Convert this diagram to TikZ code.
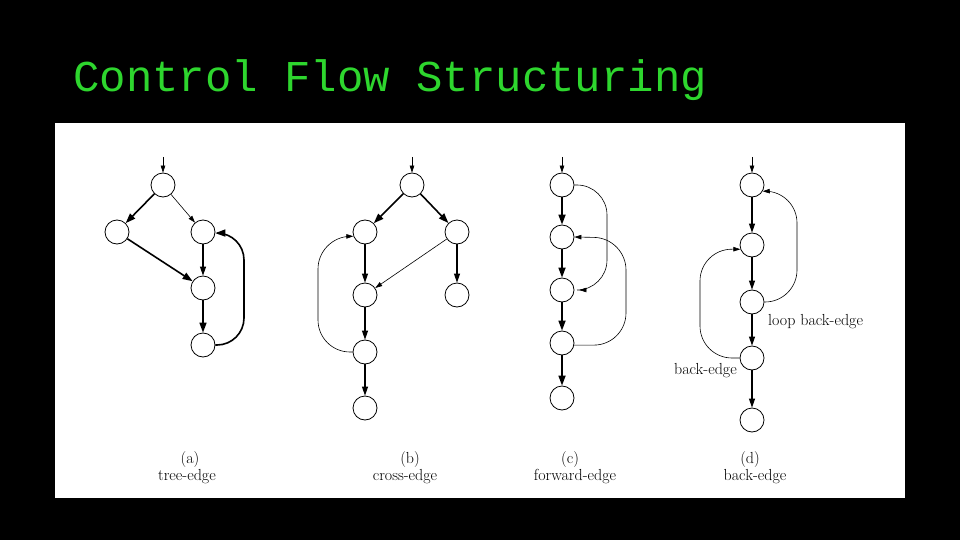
\documentclass[tikz,border=0pt]{standalone}
\usepackage{fontspec}
\usetikzlibrary{arrows.meta}
\newfontfamily\titlefont{Liberation Mono}
\definecolor{titlegreen}{RGB}{46,214,46}
\tikzset{
	blk/.style={circle, draw, line width=0.8pt, minimum size=24pt, inner sep=0pt},
	heavy/.style={line width=1.6pt, -{Triangle[length=10pt,width=7pt]}},
	medium/.style={line width=1.1pt, -{Triangle[length=9pt,width=6pt]}},
	light/.style={line width=0.6pt, -{Triangle[length=7pt,width=4.5pt]}},
	caption/.style={font=\fontsize{16}{18}\selectfont, inner sep=0pt},
}
\begin{document}
\begin{tikzpicture}[x=1pt, y=-1pt]
%frame
	\useasboundingbox (0,0) rectangle (960,540);
	\fill[black] (0,0) rectangle (960,540);
	\fill[white] (55,123) rectangle (905,498);
	\node[anchor=base west, inner sep=0pt, text=titlegreen, font=\titlefont\fontsize{44}{48}\selectfont] (title) at (73,92) {Control Flow Structuring};

%(a) tree-edge
	\coordinate (a0) at (163,157);
	\foreach \xy/\name in {{(163,185)/a1},{(117,232)/a2},{(203,232)/a3},{(203,288)/a4},{(203,345)/a5}} {
		\node[blk] (\name) at \xy {};
	}
		\draw[light] (a0) -- (a1);
		\draw[heavy] (a1) -- (a2);
		\draw[light] (a1) -- (a3);
		\draw[heavy] (a2) -- (a4);
		\draw[medium] (a3) -- (a4);
		\draw[heavy] (a4) -- (a5);
		\draw[heavy, rounded corners=27pt] (a5.east) -- (244,345) -- (244,233) -- (a3.-5);

%(b) cross-edge
	\coordinate (b0) at (412,157);
	\foreach \xy/\name in {{(412,185)/b1},{(365,232)/b2},{(457,232)/b3},{(365,295)/b4},{(457,295)/b5},{(365,352)/b6},{(365,408)/b7}} {
		\node[blk] (\name) at \xy {};
	}
		\draw[light] (b0) -- (b1);
		\draw[heavy] (b1) -- (b2);
		\draw[heavy] (b1) -- (b3);
		\draw[medium] (b2) -- (b4);
		\draw[light] (b3) -- (b4);
		\draw[medium] (b3) -- (b5);
		\draw[medium] (b4) -- (b6);
		\draw[medium] (b6) -- (b7);
		\draw[light, rounded corners=32pt] (b6.west) -- (318,352) -- (318,237) -- (b2.200);

%(c) forward-edge
	\coordinate (c0) at (562,157);
	\foreach \y/\name in {185/c1, 237/c2, 290/c3, 343/c4, 398/c5} {
		\node[blk] (\name) at (562,\y) {};
	}
		\draw[light] (c0) -- (c1);
	\foreach \i/\j in {c1/c2, c2/c3, c3/c4, c4/c5} {
		\draw[heavy] (\i) -- (\j);
	}
		\draw[light, shorten >=5pt, rounded corners=30pt] (c1.east) -- (607,185) -- (607,290) -- (c3.east);
		\draw[light, rounded corners=32pt] (c4.-10) -- (626,345) -- (626,238) -- (c2.east);

%(d) back-edge
	\coordinate (d0) at (752,157);
	\foreach \y/\name in {185/d1, 245/d2, 302/d3, 358/d4, 420/d5} {
		\node[blk] (\name) at (752,\y) {};
	}
		\draw[light] (d0) -- (d1);
	\foreach \i/\j in {d1/d2, d2/d3, d3/d4, d4/d5} {
		\draw[medium] (\i) -- (\j);
	}
		\draw[light, rounded corners=32pt] (d3.east) -- (797,302) -- (797,191) -- (d1.-30);
		\draw[light, rounded corners=32pt] (d4.west) -- (700,358) -- (700,249) -- (d2.200);
		\node[caption, anchor=west] (loopback) at (768,322) {loop back-edge};
		\node[caption, anchor=east] (back) at (737,371) {back-edge};

%captions
	\foreach \x/\tag/\xx/\txt/\name in {190/(a)/187/tree-edge/a, 410/(b)/405/cross-edge/b, 570/(c)/575/forward-edge/c, 750/(d)/755/back-edge/d} {
		\node[caption] (tag\name) at (\x,460) {\tag};
		\node[caption] (txt\name) at (\xx,477) {\txt};
	}
\end{tikzpicture}
\end{document}
